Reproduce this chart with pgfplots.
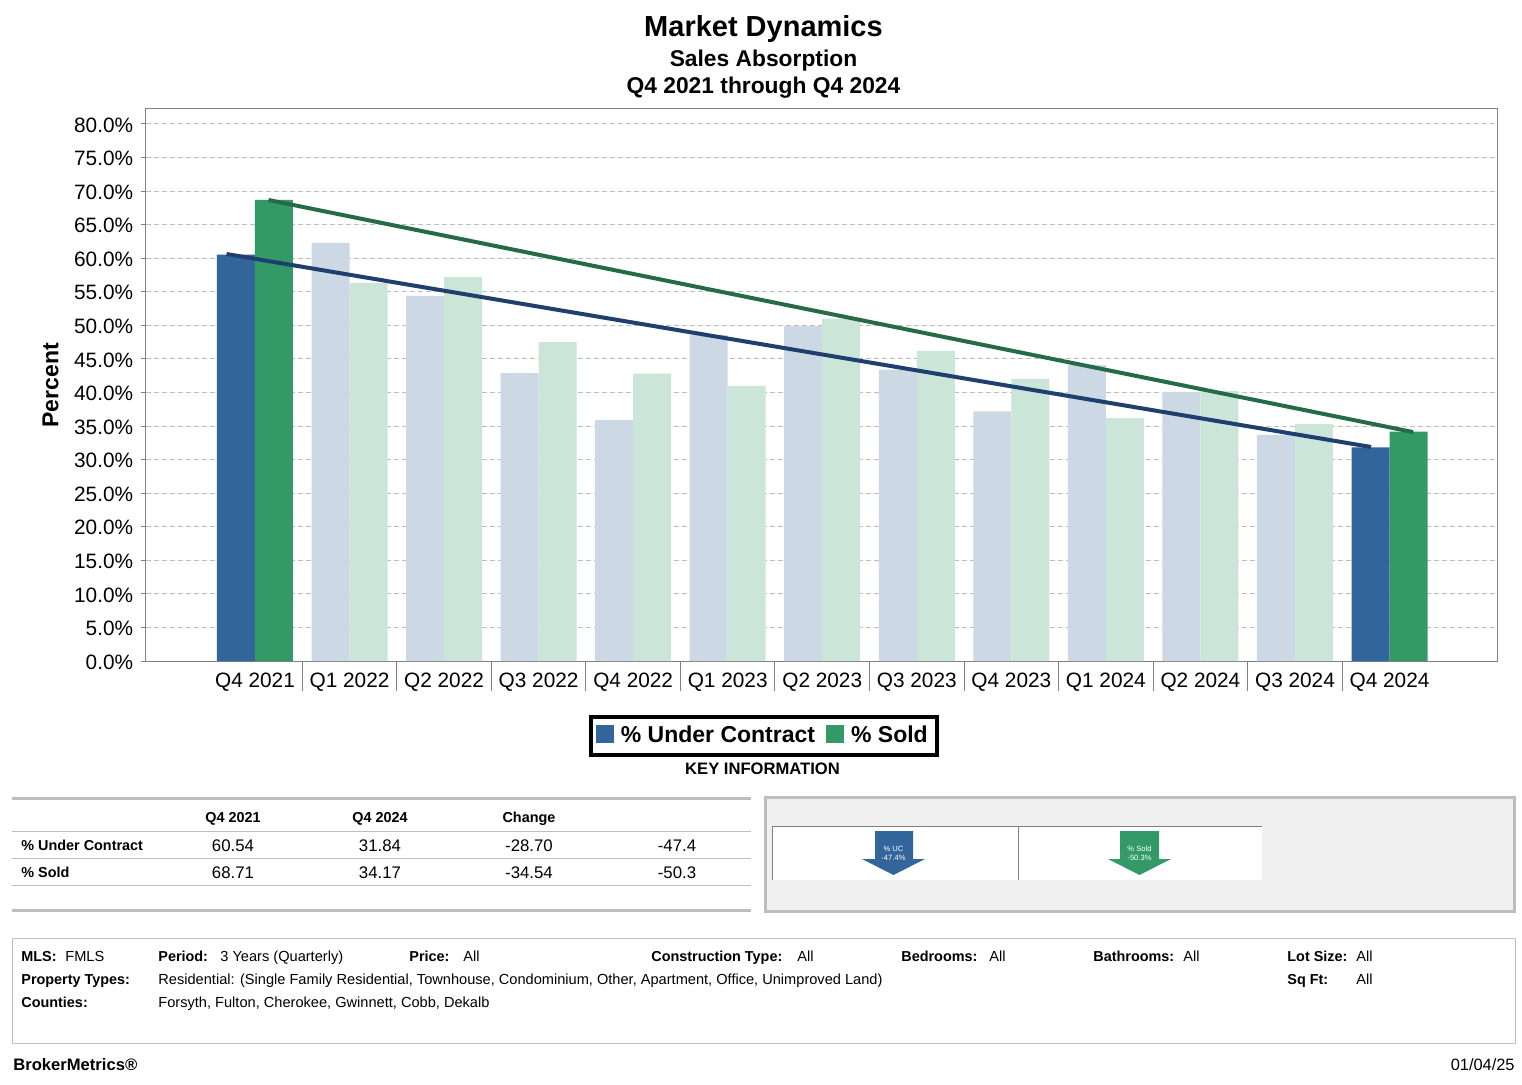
\documentclass[border=0pt]{standalone}
\usepackage{fontspec}
\setmainfont{Liberation Sans}
\usepackage{pgfplots}
\pgfplotsset{compat=1.18}

\definecolor{ucdark}{HTML}{32669A}
\definecolor{solddark}{HTML}{339966}
\definecolor{uclight}{HTML}{CCD9E5}
\definecolor{soldlight}{HTML}{CCE5D9}
\definecolor{ucline}{HTML}{1F3F6E}
\definecolor{soldline}{HTML}{266B47}
\definecolor{panelgray}{HTML}{BEBEBE}
\newcommand{\fs}[1]{\fontsize{#1}{#1}\selectfont}

\begin{document}
% 1 px of the reference = 0.5pt, y runs downwards
\begin{tikzpicture}[x=0.5pt,y=-0.5pt,
  lb/.style={anchor=base west,inner sep=0pt,font=\fs{7.2}\bfseries},
  lr/.style={anchor=base west,inner sep=0pt,font=\fs{7.3}},
  hd/.style={anchor=base,inner sep=0pt,font=\fs{7.2}\bfseries},
  vl/.style={anchor=base,inner sep=0pt,font=\fs{8.4}}]
\fill[white] (0,0) rectangle (1522,1085);
\path[use as bounding box] (0,0) rectangle (1522,1085);
\coordinate (origin) at (145.5,661);

\node[anchor=base,inner sep=0pt,font=\fs{14.5}\bfseries] at (763.5,37) {Market Dynamics};
\node[anchor=base,inner sep=0pt,font=\fs{11.4}\bfseries] at (763.5,67) {Sales Absorption};
\node[anchor=base,inner sep=0pt,font=\fs{11.4}\bfseries] at (763.5,94) {Q4 2021 through Q4 2024};

\begin{axis}[
  at={(origin)},anchor=south west,
  scale only axis,width=675.75pt,height=276.5pt,
  xmin=-1.158,xmax=13.137,ymin=0,ymax=82.38,
  axis line style={color=gray,line width=0.5pt},
  tick align=outside,xtick pos=bottom,ytick pos=left,
  major tick length=2.5pt,minor tick length=15pt,
  tick style={color=gray,line width=0.5pt},
  major x tick style={draw=none},
  xtick={0,...,12},
  minor xtick={0.5,1.5,...,11.5},
  xticklabels={Q4 2021,Q1 2022,Q2 2022,Q3 2022,Q4 2022,Q1 2023,Q2 2023,Q3 2023,Q4 2023,Q1 2024,Q2 2024,Q3 2024,Q4 2024},
  ytick={0,5,...,80},
  yticklabel={\pgfmathprintnumber[fixed,fixed zerofill,precision=1]{\tick}\%},
  /pgf/number format/assume math mode=true,
  ticklabel style={font=\fs{10.4},inner sep=0pt},
  xticklabel style={yshift=-3.5pt},
  yticklabel style={xshift=-3.5pt,yshift=-0.5pt},
  ylabel={\textbf{Percent}},
  ylabel style={font=\fs{11.5},at={(axis description cs:-0.0702,0.4985)},anchor=center,rotate=0},
  ymajorgrids,
  grid style={color=panelgray,line width=0.5pt,dash pattern=on 2.5pt off 1.5pt},
  legend columns=2,
  legend style={at={(axis description cs:0.4575,-0.1356)},anchor=center,
    draw=black,line width=2pt,font=\fs{11.5}\bfseries,inner xsep=2.5pt,inner ysep=2.5pt,
    nodes={yshift=-0.5pt},
    /tikz/every odd column/.append style={column sep=1.5pt},
    /tikz/every even column/.append style={column sep=3.5pt}},
  legend image code/.code={\fill[#1,draw=none] (0pt,-4pt) rectangle (9pt,5pt);},
]
\addplot[ybar,bar width=19pt,bar shift=-9.5pt,fill=ucdark,draw=none] coordinates {(0,60.54) (12,31.84)};
\addlegendentry{\% Under Contract}
\addplot[ybar,bar width=19pt,bar shift=9.5pt,fill=solddark,draw=none] coordinates {(0,68.71) (12,34.17)};
\addlegendentry{\% Sold}
\addplot[ybar,bar width=19pt,bar shift=-9.5pt,fill=uclight,draw=none,forget plot] coordinates {
(1,62.3) (2,54.4) (3,42.9) (4,35.9) (5,48.6) (6,49.9) (7,43.4) (8,37.2) (9,44.1) (10,40.1) (11,33.7)};
\addplot[ybar,bar width=19pt,bar shift=9.5pt,fill=soldlight,draw=none,forget plot] coordinates {
(1,56.3) (2,57.2) (3,47.5) (4,42.8) (5,41.0) (6,51.0) (7,46.2) (8,42.0) (9,36.2) (10,40.2) (11,35.3)};
\addplot[ucline,line width=2pt,forget plot] coordinates {(-0.301,60.63) (11.805,31.88)};
\addplot[soldline,line width=2pt,forget plot] coordinates {(0.143,68.68) (12.25,34.1)};
\end{axis}

\node[anchor=base,inner sep=0pt,font=\fs{8.3}\bfseries] at (762.5,774.5) {KEY INFORMATION};

% key information table
\draw[panelgray,line width=1.5pt] (12,798) -- (751,798);
\draw[panelgray,line width=1.5pt] (12,910) -- (751,910);
\foreach \yy in {831,858,885} \draw[panelgray,line width=0.5pt] (12,\yy) -- (751,\yy);
\node[hd] at (233,822) {Q4 2021};
\node[hd] at (380,822) {Q4 2024};
\node[hd] at (529,822) {Change};
\node[lb] at (21,850) {\% Under Contract};
\node[vl] at (233,851) {60.54};
\node[vl] at (380,851) {31.84};
\node[vl] at (529,851) {-28.70};
\node[vl] at (677,851) {-47.4};
\node[lb] at (21,877) {\% Sold};
\node[vl] at (233,878) {68.71};
\node[vl] at (380,878) {34.17};
\node[vl] at (529,878) {-34.54};
\node[vl] at (677,878) {-50.3};

% arrows panel
\draw[panelgray,line width=1.5pt,fill=black!6] (765,797) rectangle (1514.5,911);
\fill[white] (772,826) rectangle (1262,880);
\draw[gray,line width=0.5pt] (772,880) -- (772,826) -- (1262,826);
\draw[gray,line width=0.5pt] (1018,826) -- (1018,880);
\fill[ucdark] (875,831) -- (913,831) -- (913,859) -- (925,859) -- (893.5,875) -- (862,859) -- (875,859) -- cycle;
\fill[solddark] (1120,831) -- (1159,831) -- (1159,859) -- (1171,859) -- (1139.5,875) -- (1108,859) -- (1120,859) -- cycle;
\node[anchor=base,inner sep=0pt,text=white,font=\fs{3.8}] at (893.5,851) {\% UC};
\node[anchor=base,inner sep=0pt,text=white,font=\fs{3.8}] at (893.5,860) {-47.4\%};
\node[anchor=base,inner sep=0pt,text=white,font=\fs{3.8}] at (1139.5,851) {\% Sold};
\node[anchor=base,inner sep=0pt,text=white,font=\fs{3.8}] at (1139.5,860) {-50.3\%};

% filter box
\draw[panelgray,line width=0.5pt] (12,938) rectangle (1515,1043);
\node[lb] at (21,961) {MLS:};
\node[lr] at (65,961) {FMLS};
\node[lb] at (158,961) {Period:};
\node[lr] at (220,961) {3 Years (Quarterly)};
\node[lb] at (409,961) {Price:};
\node[lr] at (463,961) {All};
\node[lb] at (651,961) {Construction Type:};
\node[lr] at (797,961) {All};
\node[lb] at (901,961) {Bedrooms:};
\node[lr] at (989,961) {All};
\node[lb] at (1093,961) {Bathrooms:};
\node[lr] at (1183,961) {All};
\node[lb] at (1287,961) {Lot Size:};
\node[lr] at (1356,961) {All};
\node[lb] at (21,984) {Property Types:};
\node[lr] at (158,984) {Residential: (Single Family Residential, Townhouse, Condominium, Other, Apartment, Office, Unimproved Land)};
\node[lb] at (1287,984) {Sq Ft:};
\node[lr] at (1356,984) {All};
\node[lb] at (21,1007) {Counties:};
\node[lr] at (158,1007) {Forsyth, Fulton, Cherokee, Gwinnett, Cobb, Dekalb};

\node[anchor=base west,inner sep=0pt,font=\fs{8.3}\bfseries] at (13,1070) {BrokerMetrics®};
\node[anchor=base east,inner sep=0pt,font=\fs{8.2}] at (1515,1070) {01/04/25};
\end{tikzpicture}
\end{document}
